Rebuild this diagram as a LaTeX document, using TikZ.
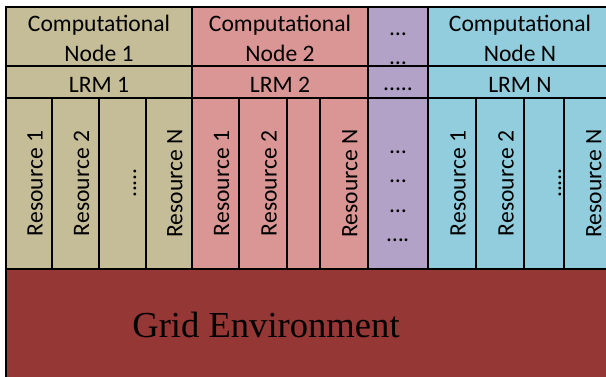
\documentclass[tikz,border=0pt]{standalone}
\usepackage{fontspec}
\setmainfont{Carlito}
\newfontfamily\gridfont{Liberation Serif}
\definecolor{nodeone}{RGB}{196,189,151}
\definecolor{nodetwo}{RGB}{217,150,148}
\definecolor{nodedots}{RGB}{178,162,199}
\definecolor{nodelast}{RGB}{146,205,221}
\definecolor{gridred}{RGB}{149,55,53}

\tikzset{
    celltext/.style={font=\fontsize{11.8}{14.75}\selectfont, align=center, inner sep=0pt},
    restext/.style={font=\fontsize{11.8}{14.75}\selectfont, rotate=90, inner sep=0pt}
}

\begin{document}
\begin{tikzpicture}[x=0.5pt, y=-0.5pt, line width=1pt]
    \clip (0, 0) rectangle (606, 376);

    % draw grid environment
    \filldraw[fill=gridred] (6, 269) rectangle (614, 384);

    % draw computational node 1
    \filldraw[fill=nodeone] (6, 7) rectangle (192, 66);
    \filldraw[fill=nodeone] (6, 66) rectangle (192, 98);
    \filldraw[fill=nodeone] (6, 98) rectangle (192, 269);
    \foreach \x in {52, 99, 146}
        \draw (\x, 98) -- (\x, 269);

    % draw computational node 2
    \filldraw[fill=nodetwo] (192, 7) rectangle (368, 66);
    \filldraw[fill=nodetwo] (192, 66) rectangle (368, 98);
    \filldraw[fill=nodetwo] (192, 98) rectangle (368, 269);
    \foreach \x in {239, 287, 320}
        \draw (\x, 98) -- (\x, 269);

    % draw dots column
    \filldraw[fill=nodedots] (368, 7) rectangle (428, 66);
    \filldraw[fill=nodedots] (368, 66) rectangle (428, 98);
    \filldraw[fill=nodedots] (368, 98) rectangle (428, 269);

    % draw computational node N
    \filldraw[fill=nodelast] (428, 7) rectangle (612, 66);
    \filldraw[fill=nodelast] (428, 66) rectangle (612, 98);
    \filldraw[fill=nodelast] (428, 98) rectangle (612, 269);
    \foreach \x in {476, 524, 564}
        \draw (\x, 98) -- (\x, 269);

    % draw symbols
    \node[celltext] (comp1) at (99, 38.5) {Computational\\Node 1};
    \node[celltext] (comp2) at (280, 38.5) {Computational\\Node 2};
    \node[celltext] (compdots) at (398, 49) {\ldots\\\ldots};
    \node[celltext] (compN) at (520, 38.5) {Computational\\Node N};

    \node[celltext] (lrm1) at (99, 85) {LRM 1};
    \node[celltext] (lrm2) at (280, 85) {LRM 2};
    \node[celltext] (lrmdots) at (398, 89) {.....};
    \node[celltext] (lrmN) at (520, 85) {LRM N};

    \node[restext] (res11) at (35, 183.5) {Resource 1};
    \node[restext] (res12) at (81.5, 183.5) {Resource 2};
    \node[restext] (res1dots) at (135, 183) {.....};
    \node[restext] (res1N) at (175, 183.5) {Resource N};

    \node[restext] (res21) at (221.5, 183.5) {Resource 1};
    \node[restext] (res22) at (269, 183.5) {Resource 2};
    \node[restext] (res2N) at (350, 183.5) {Resource N};

    \node[celltext] (resdots) at (398, 196) {\ldots\\\ldots\\\ldots\\\ldots.};

    \node[restext] (resN1) at (458, 183.5) {Resource 1};
    \node[restext] (resN2) at (506, 183.5) {Resource 2};
    \node[restext] (resNdots) at (560, 183) {.....};
    \node[restext] (resNN) at (594, 183.5) {Resource N};

    \node[font=\gridfont\fontsize{18.3}{22}\selectfont] (grid) at (266, 325) {Grid Environment};
\end{tikzpicture}
\end{document}
